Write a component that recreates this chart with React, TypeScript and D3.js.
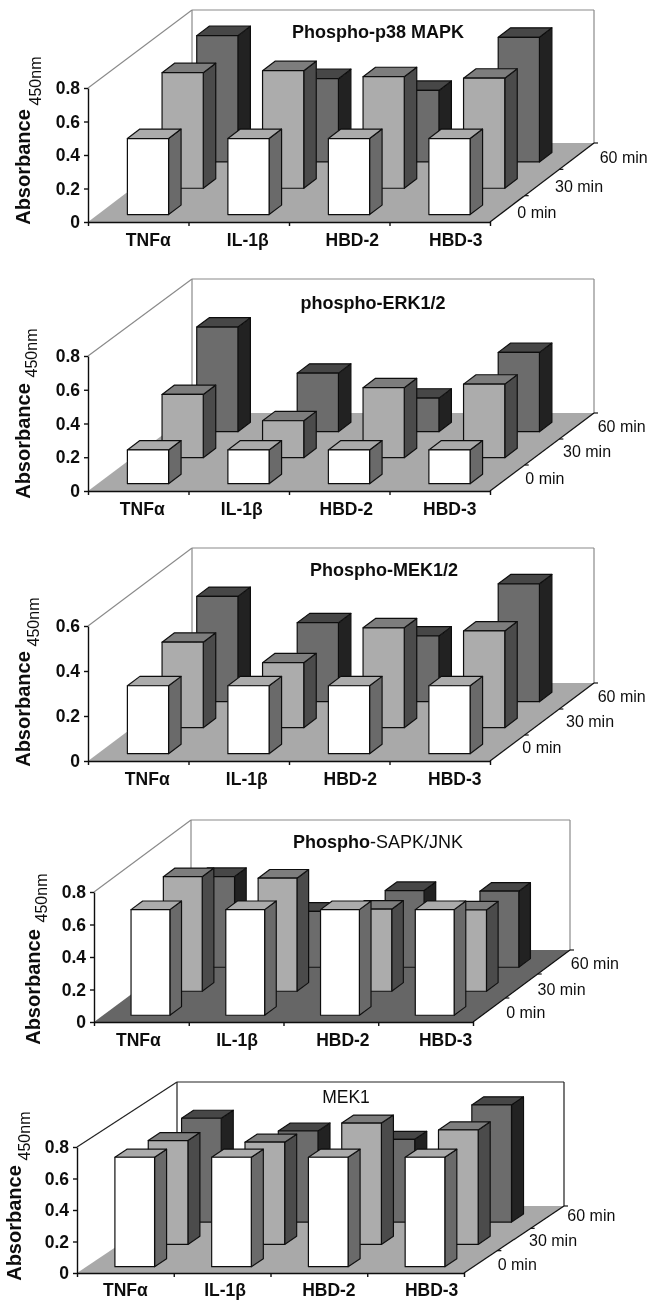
import React, { useEffect, useRef } from "react";
import * as d3 from "d3";

const categories = ["TNFα", "IL-1β", "HBD-2", "HBD-3"];
const timepoints = ["0 min", "30 min", "60 min"];

// absorbance, one list per panel and time point
const p38Zero = [0.454, 0.454, 0.454, 0.454];
const p38Thirty = [0.69, 0.702, 0.666, 0.657];
const p38Sixty = [0.754, 0.497, 0.427, 0.744];

const erkZero = [0.2, 0.2, 0.2, 0.2];
const erkThirty = [0.375, 0.219, 0.415, 0.436];
const erkSixty = [0.62, 0.347, 0.199, 0.47];

const mekZero = [0.302, 0.302, 0.302, 0.302];
const mekThirty = [0.38, 0.289, 0.444, 0.43];
const mekSixty = [0.468, 0.351, 0.292, 0.524];

const jnkZero = [0.65, 0.65, 0.65, 0.65];
const jnkThirty = [0.705, 0.696, 0.505, 0.5];
const jnkSixty = [0.558, 0.344, 0.472, 0.468];

const mek1Zero = [0.695, 0.695, 0.695, 0.695];
const mek1Thirty = [0.659, 0.649, 0.77, 0.727];
const mek1Sixty = [0.659, 0.578, 0.525, 0.744];

const ticks08 = [0, 0.2, 0.4, 0.6, 0.8];
const ticks06 = [0, 0.2, 0.4, 0.6];

const panels = [
  {
    title: [["Phospho-p38 MAPK", 700]],
    values: [p38Zero, p38Thirty, p38Sixty],
    ticks: ticks08,
    x0: 88, y0: 222, yTop: 88, w: 402, dx: 104, dy: -79, wallTop: 10,
    titleX: 378, titleY: 33, titleSize: 18, floor: "#a9a9a9", wall: "#8a8a8a",
    catDx: [10, 9, 13, 16], catY: 241,
    timeDx: [10, 13, 23], timeDy: [5, 5, 2.5],
    absX: 25, absY: 167, nmX: 37, nmY: 81,
  },
  {
    title: [["phospho-", 700], ["ERK1/2", 600]],
    values: [erkZero, erkThirty, erkSixty],
    ticks: ticks08,
    x0: 88, y0: 491, yTop: 356, w: 402, dx: 104, dy: -78, wallTop: 279,
    titleX: 373, titleY: 304, titleSize: 18, floor: "#a9a9a9", wall: "#8a8a8a",
    catDx: [4, 3, 7, 10], catY: 510,
    timeDx: [18, 21, 21], timeDy: [1.5, 0.5, 2],
    absX: 25, absY: 441, nmX: 33, nmY: 353,
  },
  {
    title: [["Phospho-MEK1/2", 700]],
    values: [mekZero, mekThirty, mekSixty],
    ticks: ticks06,
    x0: 88, y0: 761, yTop: 626, w: 402, dx: 104, dy: -78, wallTop: 548,
    titleX: 384, titleY: 571, titleSize: 18, floor: "#a9a9a9", wall: "#8a8a8a",
    catDx: [9, 8, 11, 15], catY: 780,
    timeDx: [15, 24, 21], timeDy: [1, 1, 2],
    absX: 25, absY: 709, nmX: 35, nmY: 622,
  },
  {
    title: [["Phospho", 700], ["-SAPK/JNK", 500]],
    values: [jnkZero, jnkThirty, jnkSixty],
    ticks: ticks08,
    x0: 94, y0: 1022, yTop: 892, w: 379, dx: 97, dy: -72, wallTop: 820,
    titleX: 378, titleY: 843, titleSize: 18, floor: "#666666", wall: "#8a8a8a",
    catDx: [-3, 1, 12, 20], catY: 1041,
    timeDx: [17, 16, 17], timeDy: [3.5, 5, 2.5],
    absX: 35, absY: 987, nmX: 43, nmY: 898,
  },
  {
    title: [["MEK1", 400]],
    values: [mek1Zero, mek1Thirty, mek1Sixty],
    ticks: ticks08,
    x0: 77, y0: 1273, yTop: 1147, w: 387, dx: 100, dy: -67, wallTop: 1082,
    titleX: 346, titleY: 1098, titleSize: 17.5, floor: "#a9a9a9", wall: "#222222",
    catDx: [0, 3, 10, 16], catY: 1291,
    timeDx: [17, 15, 20], timeDy: [3.5, 2.5, 0],
    absX: 16, absY: 1223, nmX: 26, nmY: 1136,
  },
];

// front, top, side of a bar for each time point
const barColors = [
  ["#ffffff", "#ababab", "#6b6b6b"],
  ["#acacac", "#7d7d7d", "#4b4b4b"],
  ["#6c6c6c", "#474747", "#232323"],
];

const FONT = "'Liberation Sans', Arial, sans-serif";

const App = () => {
  const ref = useRef<SVGSVGElement>(null);

  useEffect(() => {
    const svg = d3.select(ref.current);
    svg.selectAll("*").remove();

    const defs = svg.append("defs");
    defs.append("filter").attr("id", "soft")
      .append("feGaussianBlur").attr("stdDeviation", 0.4);

    const root = svg.append("g").attr("filter", "url(#soft)");

    panels.forEach((p) => {
      const g = root.append("g");
      const yMax = p.ticks[p.ticks.length - 1];

      const x = d3.scaleBand().domain(categories).range([p.x0, p.x0 + p.w])
        .paddingInner(0.59).paddingOuter(0.295);
      const y = d3.scaleLinear().domain([0, yMax]).range([p.y0, p.yTop]);
      const depth = d3.scaleBand().domain(timepoints).range([-0.013, 0.987])
        .paddingInner(0.64).paddingOuter(0.32);
      const edge = d3.scaleLinear().domain([0, 4]).range([p.x0, p.x0 + p.w]);

      const line = (a, b, c, d, color, width = 1.2) =>
        g.append("line").attr("x1", a).attr("y1", b).attr("x2", c).attr("y2", d)
          .attr("stroke", color).attr("stroke-width", width);

      const backX = p.x0 + p.dx;
      const backY = p.y0 + p.dy;
      const right = p.x0 + p.w;

      // wall
      line(backX, p.wallTop, backX + p.w, p.wallTop, p.wall);
      line(backX, p.wallTop, backX, backY, p.wall);
      line(backX + p.w, p.wallTop, backX + p.w, backY, p.wall);
      line(p.x0, p.yTop, backX, p.wallTop, p.wall);

      // floor
      g.append("polygon")
        .attr("points", [[p.x0, p.y0], [right, p.y0], [backX + p.w, backY], [backX, backY]].join(" "))
        .attr("fill", p.floor);

      // bars, from the back row forwards
      for (let row = timepoints.length - 1; row >= 0; row--) {
        const d0 = depth(timepoints[row]);
        const d1 = d0 + depth.bandwidth();
        const [front, top, side] = barColors[row];
        categories.forEach((cat, i) => {
          const v = p.values[row][i];
          const xa = x(cat) + d0 * p.dx;
          const xb = xa + x.bandwidth();
          const sx = (d1 - d0) * p.dx;
          const sy = (d1 - d0) * p.dy;
          const yt = y(v) + d0 * p.dy;
          const yb = y(0) + d0 * p.dy;
          const bar = g.append("g").attr("stroke", "#111").attr("stroke-width", 1.2)
            .attr("stroke-linejoin", "round");
          bar.append("polygon")
            .attr("points", [[xb, yt], [xb + sx, yt + sy], [xb + sx, yb + sy], [xb, yb]].join(" "))
            .attr("fill", side);
          bar.append("polygon")
            .attr("points", [[xa, yt], [xa + sx, yt + sy], [xb + sx, yt + sy], [xb, yt]].join(" "))
            .attr("fill", top);
          bar.append("rect").attr("x", xa).attr("y", yt)
            .attr("width", xb - xa).attr("height", yb - yt).attr("fill", front);
        });
      }

      // axes
      const yAxis = g.append("g").attr("transform", `translate(${p.x0},0)`)
        .call(d3.axisLeft(y).tickValues(p.ticks).tickSizeInner(4).tickSizeOuter(0).tickPadding(4)
          .tickFormat((d) => (d === 0 ? "0" : d3.format(".1f")(d))));
      yAxis.selectAll("path,line").attr("stroke", "#111").attr("stroke-width", 1.4);
      yAxis.selectAll("text").attr("font-family", FONT).attr("font-size", 17.5)
        .attr("font-weight", 700).attr("fill", "#111");

      const xAxis = g.append("g").attr("transform", `translate(0,${p.y0})`)
        .call(d3.axisBottom(edge).tickValues([0, 1, 2, 3, 4]).tickSizeInner(4).tickSizeOuter(0)
          .tickFormat(() => ""));
      xAxis.selectAll("path,line").attr("stroke", "#111").attr("stroke-width", 1.4);

      line(right, p.y0, backX + p.w, backY, "#111", 1.3);
      [1, 2, 3].forEach((k) => {
        const tx = right + (k / 3) * p.dx;
        const ty = p.y0 + (k / 3) * p.dy;
        line(tx, ty, tx + 4, ty, "#111", 1.2);
      });

      const text = (str, tx, ty, size, weight, anchor = "middle") =>
        g.append("text").attr("x", tx).attr("y", ty).attr("font-family", FONT)
          .attr("font-size", size).attr("font-weight", weight).attr("fill", "#111")
          .attr("text-anchor", anchor).attr("dominant-baseline", "middle").text(str);

      categories.forEach((cat, i) =>
        text(cat, x(cat) + x.bandwidth() / 2 + p.catDx[i], p.catY, 17.5, 700));

      timepoints.forEach((t, i) => {
        const c = (i + 0.5) / timepoints.length;
        text(t, right + c * p.dx + p.timeDx[i], p.y0 + c * p.dy + p.timeDy[i], 16, 400, "start");
      });

      const title = text("", p.titleX, p.titleY, p.titleSize, 700);
      p.title.forEach(([str, weight]) => title.append("tspan").attr("font-weight", weight).text(str));

      text("Absorbance", 0, 0, 20, 700)
        .attr("x", null).attr("y", null)
        .attr("transform", `translate(${p.absX},${p.absY}) rotate(-90)`);
      text("450nm", 0, 0, 16, 400)
        .attr("x", null).attr("y", null)
        .attr("transform", `translate(${p.nmX},${p.nmY}) rotate(-90)`);
    });
  }, []);

  return (
    <svg
      ref={ref}
      width={649}
      height={1301}
      style={{ position: "absolute", left: 0, top: 0, background: "#fff" }}
    />
  );
};

export default App;
